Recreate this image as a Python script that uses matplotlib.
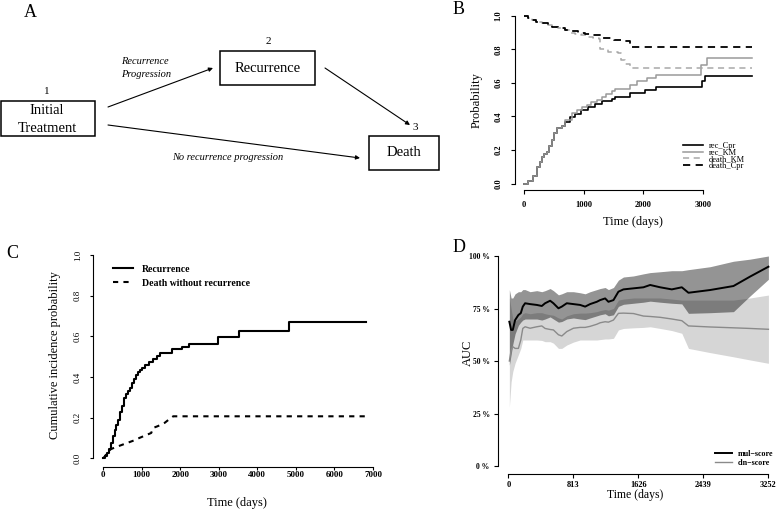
import matplotlib
matplotlib.use('Agg')
import matplotlib.pyplot as plt
from matplotlib.patches import Rectangle
from matplotlib.lines import Line2D

plt.rcParams['font.family'] = ['Liberation Serif', 'DejaVu Serif']

# ---------------- data ----------------
# B: cumulative probabilities (step functions, value holds from each time on)
b_rec_cpr_t = [0, 70, 150, 210, 260, 300, 340, 380, 420, 460, 500, 550, 630, 690, 770, 850, 960,
               1080, 1190, 1300, 1470, 1525, 1780, 2030, 2220, 2980, 3035, 3821]
b_rec_cpr_v = [0, 0.018, 0.048, 0.097, 0.13, 0.157, 0.175, 0.19, 0.225, 0.26, 0.30, 0.33, 0.345,
               0.366, 0.396, 0.417, 0.436, 0.456, 0.472, 0.49, 0.506, 0.516, 0.542, 0.56, 0.576,
               0.61, 0.641, 0.641]
b_rec_km_t = [0, 70, 150, 210, 260, 300, 340, 380, 420, 460, 500, 550, 630, 690, 800, 880, 970,
              1050, 1130, 1220, 1300, 1380, 1470, 1525, 1780, 1900, 2060, 2220, 2960, 3060, 3821]
b_rec_km_v = [0, 0.018, 0.048, 0.097, 0.13, 0.157, 0.175, 0.19, 0.225, 0.26, 0.30, 0.33, 0.345,
              0.376, 0.422, 0.44, 0.456, 0.47, 0.486, 0.50, 0.516, 0.533, 0.55, 0.566, 0.586,
              0.61, 0.626, 0.646, 0.705, 0.749, 0.749]
b_death_km_t = [0, 60, 130, 200, 300, 400, 470, 560, 690, 780, 860, 960, 1080, 1160, 1250, 1275,
                1410, 1580, 1630, 1700, 1780, 3821]
b_death_km_v = [1.0, 0.985, 0.974, 0.965, 0.955, 0.945, 0.934, 0.925, 0.912, 0.90, 0.893, 0.885,
                0.875, 0.868, 0.859, 0.80, 0.785, 0.775, 0.735, 0.71, 0.686, 0.686]
b_death_cpr_t = [0, 60, 130, 200, 300, 400, 470, 560, 690, 800, 910, 1020, 1130, 1300, 1330, 1500,
                 1640, 1780, 3821]
b_death_cpr_v = [1.0, 0.985, 0.974, 0.965, 0.955, 0.945, 0.934, 0.925, 0.914, 0.907, 0.90, 0.892,
                 0.885, 0.88, 0.865, 0.857, 0.849, 0.815, 0.815]
b_labels = ['rec_Cpr', 'rec_KM', 'death_KM', 'death_Cpr']
b_xticks = [0, 1000, 2000, 3000]
b_yticks = [0.0, 0.2, 0.4, 0.6, 0.8, 1.0]

# C: cumulative incidence
c_rec_t = [0, 50, 100, 150, 200, 250, 300, 350, 400, 450, 500, 550, 600, 650, 700, 750, 800, 850,
           900, 950, 1000, 1100, 1200, 1300, 1400, 1480, 1780, 2040, 2240, 2990, 3530, 4820, 6810]
c_rec_v = [0, 0.01, 0.025, 0.045, 0.075, 0.11, 0.14, 0.165, 0.19, 0.23, 0.26, 0.295, 0.315, 0.33,
           0.345, 0.37, 0.39, 0.41, 0.425, 0.435, 0.445, 0.46, 0.475, 0.49, 0.505, 0.517, 0.537,
           0.548, 0.565, 0.595, 0.627, 0.67, 0.67]
c_death_t = [0, 50, 100, 150, 200, 300, 400, 500, 600, 700, 800, 900, 1000, 1100, 1250, 1300,
             1400, 1500, 1600, 1700, 1820, 6810]
c_death_v = [0, 0.01, 0.025, 0.035, 0.045, 0.053, 0.06, 0.067, 0.074, 0.081, 0.088, 0.097, 0.105,
             0.113, 0.125, 0.15, 0.157, 0.165, 0.175, 0.19, 0.207, 0.207]
c_labels = ['Recurrence', 'Death without recurrence']
c_xticks = [0, 1000, 2000, 3000, 4000, 5000, 6000, 7000]
c_yticks = [0.0, 0.2, 0.4, 0.6, 0.8, 1.0]

# D: time-dependent AUC with confidence bands
d_t = [12, 34, 55, 84, 125, 155, 180, 209, 271, 355, 418, 459, 522, 563, 626, 668, 730, 813, 897,
       960, 1022, 1106, 1147, 1210, 1251, 1314, 1376, 1439, 1564, 1689, 1773, 1898, 2044, 2169,
       2252, 2523, 2815, 3023, 3252]
d_mul = [0.687, 0.648, 0.648, 0.695, 0.719, 0.728, 0.759, 0.775, 0.771, 0.767, 0.762, 0.775, 0.787,
         0.775, 0.751, 0.759, 0.775, 0.771, 0.767, 0.759, 0.771, 0.782, 0.79, 0.798, 0.782, 0.79,
         0.83, 0.841, 0.846, 0.851, 0.862, 0.851, 0.841, 0.851, 0.825, 0.838, 0.857, 0.902, 0.949]
d_mul_hi = [0.84, 0.80, 0.80, 0.82, 0.83, 0.83, 0.84, 0.84, 0.83, 0.835, 0.83, 0.835, 0.845, 0.835,
            0.815, 0.82, 0.83, 0.83, 0.825, 0.82, 0.83, 0.84, 0.845, 0.85, 0.84, 0.85, 0.885, 0.90,
            0.905, 0.915, 0.921, 0.925, 0.93, 0.93, 0.935, 0.949, 0.975, 0.985, 1.0]
d_mul_lo = [0.48, 0.53, 0.58, 0.63, 0.67, 0.685, 0.695, 0.70, 0.70, 0.70, 0.695, 0.70, 0.71, 0.70,
            0.685, 0.688, 0.70, 0.705, 0.70, 0.697, 0.705, 0.715, 0.72, 0.725, 0.715, 0.72, 0.76,
            0.77, 0.775, 0.78, 0.785, 0.78, 0.775, 0.772, 0.727, 0.73, 0.735, 0.81, 0.889]
d_cln = [0.50, 0.55, 0.568, 0.56, 0.56, 0.60, 0.655, 0.663, 0.656, 0.663, 0.667, 0.655, 0.65, 0.648,
         0.625, 0.619, 0.64, 0.656, 0.66, 0.66, 0.665, 0.675, 0.682, 0.687, 0.685, 0.695, 0.727,
         0.728, 0.726, 0.714, 0.712, 0.708, 0.70, 0.692, 0.667, 0.662, 0.658, 0.655, 0.651]
d_cln_hi = [0.80, 0.75, 0.70, 0.69, 0.70, 0.71, 0.725, 0.73, 0.725, 0.73, 0.73, 0.725, 0.72, 0.718,
            0.705, 0.70, 0.715, 0.725, 0.728, 0.728, 0.73, 0.735, 0.74, 0.745, 0.742, 0.75, 0.79,
            0.795, 0.80, 0.80, 0.80, 0.80, 0.795, 0.79, 0.79, 0.79, 0.79, 0.80, 0.814]
d_cln_lo = [0.28, 0.40, 0.45, 0.49, 0.53, 0.56, 0.60, 0.60, 0.60, 0.60, 0.598, 0.592, 0.592, 0.585,
            0.56, 0.56, 0.576, 0.59, 0.60, 0.60, 0.60, 0.60, 0.602, 0.605, 0.605, 0.608, 0.648,
            0.655, 0.658, 0.66, 0.663, 0.655, 0.645, 0.632, 0.56, 0.54, 0.52, 0.505, 0.489]
d_labels = ['mul\u2212score', 'cln\u2212score']
d_xticks = [0, 813, 1626, 2439, 3252]
d_yticks = [0, 0.25, 0.5, 0.75, 1.0]
d_yticklabels = ['0 %', '25 %', '50 %', '75 %', '100 %']

# ---------------- figure ----------------
W, H = 778, 511
fig = plt.figure(figsize=(W / 100, H / 100), dpi=100)


def fx(x):
    return x / W


def fy(y):
    return 1 - y / H


def rstyle(ax, xb, yb, tlen, fs_x, fs_y, wx, wy, padx, pady):
    ax.spines['top'].set_visible(False)
    ax.spines['right'].set_visible(False)
    ax.spines['bottom'].set_bounds(*xb)
    ax.spines['left'].set_bounds(*yb)
    for s in ['bottom', 'left']:
        ax.spines[s].set_linewidth(0.8)
    ax.tick_params(axis='x', direction='out', length=tlen, width=0.8, pad=padx)
    ax.tick_params(axis='y', direction='out', length=tlen, width=0.8, pad=pady)
    for lab in ax.get_xticklabels():
        lab.set_fontsize(fs_x)
        lab.set_fontweight(wx)
    for lab in ax.get_yticklabels():
        lab.set_fontsize(fs_y)
        lab.set_fontweight(wy)


# ---- A: diagram ----
axa = fig.add_axes([0, 0, 1, 1])
axa.set_xlim(0, W)
axa.set_ylim(H, 0)
axa.axis('off')

for (x0, y0, w, h) in [(1, 101.5, 94, 35), (220.5, 51, 95, 34), (369, 136, 70, 34)]:
    axa.add_patch(Rectangle((x0, y0), w, h, fill=False, lw=1.1, ec='black'))
axa.text(47, 111, 'Initial', ha='center', va='center', fontsize=10.5)
axa.text(47, 128, 'Treatment', ha='center', va='center', fontsize=10.5)
axa.text(268, 68.5, 'Recurrence', ha='center', va='center', fontsize=10.5)
axa.text(404, 153, 'Death', ha='center', va='center', fontsize=10.5)
axa.text(47, 91, '1', ha='center', va='center', fontsize=8)
axa.text(268, 41, '2', ha='center', va='center', fontsize=8)
axa.text(415, 127, '3', ha='center', va='center', fontsize=8)
axa.text(121, 62, 'Recurrence', ha='left', va='center', fontsize=7.5, style='italic')
axa.text(121, 74.5, 'Progression', ha='left', va='center', fontsize=7.5, style='italic')
axa.text(228, 157, 'No recurrence progression', ha='center', va='center', fontsize=7.5, style='italic')
arw = dict(arrowstyle='-|>', lw=0.8, color='black', mutation_scale=6, shrinkA=0, shrinkB=0)
axa.annotate('', xy=(213, 68), xytext=(108, 107), arrowprops=arw)
axa.annotate('', xy=(410, 125), xytext=(325, 68), arrowprops=arw)
axa.annotate('', xy=(360, 158), xytext=(108, 125), arrowprops=arw)

for lab, (x, y) in zip('ABCD', [(30, 12.5), (459, 10), (12, 253), (459, 247.5)]):
    fig.text(fx(x), fy(y), lab, ha='center', va='center', fontsize=13)

# ---- B ----
axb = fig.add_axes([fx(515), fy(190.3), 246 / W, 181.3 / H])
axb.step(b_rec_cpr_t, b_rec_cpr_v, where='post', color='black', lw=1.2, label=b_labels[0])
axb.step(b_rec_km_t, b_rec_km_v, where='post', color='#9a9a9a', lw=1.1, label=b_labels[1])
axb.step(b_death_km_t, b_death_km_v, where='post', color='#a8a8a8', lw=1.1,
         ls=(0, (4, 3)), label=b_labels[2])
axb.step(b_death_cpr_t, b_death_cpr_v, where='post', color='black', lw=1.3,
         ls=(0, (4, 3)), label=b_labels[3])
axb.set_xlim(-153, 3974)
axb.set_ylim(-0.04, 1.04)
axb.set_xticks(b_xticks)
axb.set_yticks(b_yticks)
axb.set_yticklabels(['%.1f' % v for v in b_yticks], rotation=90, va='center')
rstyle(axb, (0, 3000), (0, 1), 3, 6, 6, 'bold', 'bold', 5, 6)
fig.text(fx(477), fy(100), 'Probability', rotation=90, ha='center', va='center', fontsize=9)
fig.text(fx(633), fy(222), 'Time (days)', ha='center', va='center', fontsize=9)
axb.legend(loc='upper left', bbox_to_anchor=(fx(683), fy(142)), bbox_transform=fig.transFigure,
           frameon=False, fontsize=6, borderpad=0, borderaxespad=0, handlelength=2.4,
           handletextpad=0.7, labelspacing=-0.16)

# ---- C ----
axc = fig.add_axes([fx(92.5), fy(466.5), 283.7 / W, 219.5 / H])
axc.step(c_rec_t, c_rec_v, where='post', color='black', lw=1.5, label=c_labels[0])
axc.plot(c_death_t, c_death_v, color='black', lw=1.5, ls=(0, (2.5, 2.5)), label=c_labels[1])
axc.set_xlim(-272, 7082)
axc.set_ylim(-0.04, 1.04)
axc.set_xticks(c_xticks)
axc.set_yticks(c_yticks)
axc.set_yticklabels(['%.1f' % v for v in c_yticks], rotation=90, va='center')
rstyle(axc, (0, 7000), (0, 1), 2.5, 6.5, 6.5, 'bold', 'normal', 1, 5)
fig.text(fx(55), fy(355), 'Cumulative incidence probability', rotation=90, ha='center',
         va='center', fontsize=9)
fig.text(fx(237), fy(503), 'Time (days)', ha='center', va='center', fontsize=9)
axc.legend(loc='upper left', bbox_to_anchor=(fx(113), fy(264.5)), bbox_transform=fig.transFigure,
           frameon=False, prop={'size': 7, 'weight': 'bold'}, borderpad=0, borderaxespad=0,
           handlelength=2.1, handletextpad=0.9, labelspacing=0.54)

# ---- D ----
axd = fig.add_axes([fx(498), fy(474.4), 280.8 / W, 226.8 / H])
axd.fill_between(d_t, d_cln_lo, d_cln_hi, color='#d6d6d6', lw=0)
axd.fill_between(d_t, d_mul_lo, d_mul_hi, color='black', alpha=0.42, lw=0)
axd.plot(d_t, d_cln, color='#8a8a8a', lw=1.0)
axd.plot(d_t, d_mul, color='black', lw=1.4)
axd.set_xlim(-130, 3382)
axd.set_ylim(-0.04, 1.04)
axd.set_xticks(d_xticks)
axd.set_yticks(d_yticks)
axd.set_yticklabels(d_yticklabels)
rstyle(axd, (0, 3252), (0, 1), 3, 6, 5.5, 'bold', 'bold', 1.5, 3)
fig.text(fx(468), fy(353), 'AUC', rotation=90, ha='center', va='center', fontsize=9)
fig.text(fx(635), fy(495), 'Time (days)', ha='center', va='center', fontsize=8.5)
d_handles = [Line2D([], [], color='black', lw=1.4), Line2D([], [], color='#8a8a8a', lw=1.0)]
axd.legend(d_handles, d_labels, loc='upper left', bbox_to_anchor=(fx(715), fy(449.5)),
           bbox_transform=fig.transFigure, frameon=False, prop={'size': 5.8, 'weight': 'bold'},
           borderpad=0, borderaxespad=0, handlelength=2.1, handletextpad=0.75, labelspacing=0.22)

fig.savefig('out.png', dpi=100)
